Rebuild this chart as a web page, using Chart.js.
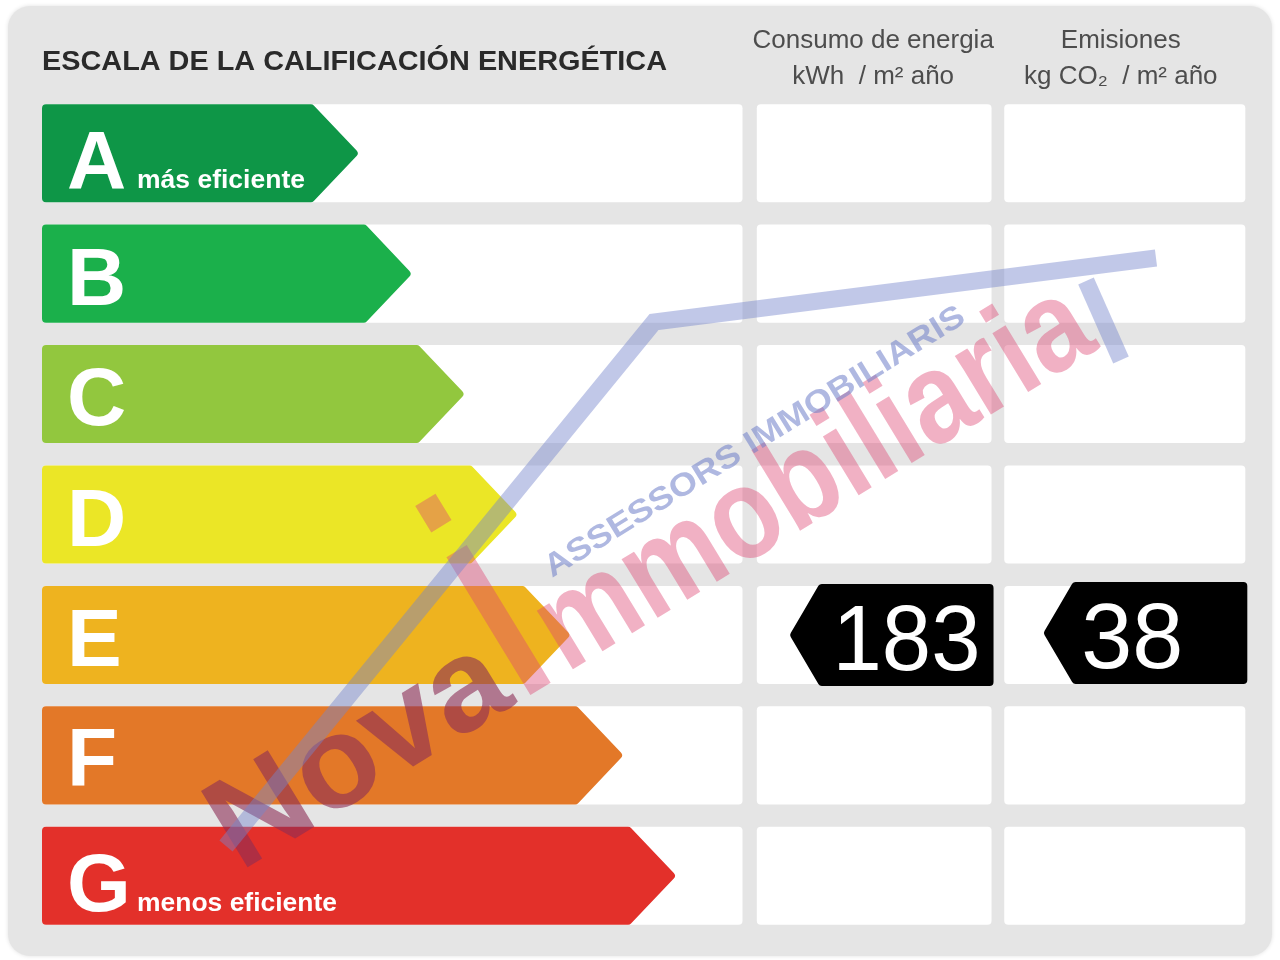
<!DOCTYPE html>
<html><head><meta charset="utf-8">
<script src="https://cdn.jsdelivr.net/npm/chart.js@4.4.1/dist/chart.umd.min.js"></script>
<style>html,body{margin:0;padding:0;background:#fff;}#wrap{width:1280px;height:960px;position:relative;}</style>
</head><body><div id="wrap"><canvas id="c" width="1280" height="960"></canvas></div>
<script>
// ---- data ----
const ratings = ['A','B','C','D','E','F','G'];
const arrowLength = [6,7,8,9,10,11,12];
const arrowColors = ['#0e9647','#1bb04b','#92c73e','#ebe626','#eeb31f','#e37828','#e3302a'];
const ratingNotes = ['más eficiente','','','','','','menos eficiente'];
const valueRating = 'E';
const consumoValue = 183;
const emisionesValue = 38;
const titleText = 'ESCALA DE LA CALIFICACIÓN ENERGÉTICA';
const consumoHeader = ['Consumo de energia', 'kWh  / m² año'];
const emisionesHeader = ['Emisiones', 'kg CO₂  / m² año'];
const watermarkMain = ['Nova', 'i', 'mmobiliaria'];
const watermarkSub = 'ASSESSORS IMMOBILIARIS';

// ---- layout constants (scale units) ----
const X_MAX = 23;
const SCALE_END = 13.25;
const COL_CONSUMO = [13.52, 17.96];
const COL_EMISIONES = [18.2, 22.76];
const FONT = "'Liberation Sans', Arial, Helvetica, sans-serif";

function roundPoly(ctx, pts, r){
  const n = pts.length;
  ctx.beginPath();
  const mid = [(pts[0][0]+pts[n-1][0])/2,(pts[0][1]+pts[n-1][1])/2];
  ctx.moveTo(mid[0], mid[1]);
  for(let i=0;i<n;i++){
    const p = pts[i], q = pts[(i+1)%n];
    ctx.arcTo(p[0],p[1],q[0],q[1],r);
  }
  ctx.closePath();
}
function roundRect(ctx,x,y,w,h,r){
  roundPoly(ctx,[[x,y],[x+w,y],[x+w,y+h],[x,y+h]],r);
}

const labelPlugin = {
  id:'energyLabel',
  beforeDraw(chart){
    const ctx = chart.ctx;
    ctx.save();
    ctx.fillStyle='#ffffff';
    ctx.fillRect(0,0,chart.width,chart.height);
    ctx.shadowColor='rgba(0,0,0,0.12)';
    ctx.shadowBlur=4;
    ctx.fillStyle='#e5e5e5';
    roundRect(ctx,8,6,1264,950,22);
    ctx.fill();
    ctx.shadowColor='transparent';
    // title
    ctx.fillStyle='#2a2a2a';
    ctx.textBaseline='alphabetic';
    ctx.textAlign='left';
    ctx.font='bold 27px '+FONT;
    const tw = ctx.measureText(titleText).width;
    ctx.save();
    ctx.translate(42,70);
    ctx.scale(625/tw,1);
    ctx.fillText(titleText,0,0);
    ctx.restore();
    // headers
    const xs = chart.scales.x;
    ctx.fillStyle='#4d4d4d';
    ctx.font='26px '+FONT;
    ctx.textAlign='center';
    const c1 = (xs.getPixelForValue(COL_CONSUMO[0])+xs.getPixelForValue(COL_CONSUMO[1]))/2 - 1;
    const c2 = (xs.getPixelForValue(COL_EMISIONES[0])+xs.getPixelForValue(COL_EMISIONES[1]))/2 - 4;
    ctx.fillText(consumoHeader[0], c1, 48);
    ctx.fillText(consumoHeader[1], c1, 84);
    ctx.fillText(emisionesHeader[0], c2, 48);
    ctx.fillText(emisionesHeader[1], c2, 84);
    ctx.restore();
  },
  beforeDatasetDraw(chart,args){
    const ds = chart.data.datasets[args.index];
    if(!ds.arrow) return;
    const ctx = chart.ctx;
    ctx.save();
    args.meta.data.forEach((bar,i)=>{
      const p = bar.getProps(['x','y','base','height'],true);
      const top = p.y-p.height/2, bot = p.y+p.height/2;
      const depth = p.height/2*0.95;
      ctx.fillStyle = ds.backgroundColor[i];
      roundPoly(ctx,[[p.base,top],[p.x-depth,top],[p.x,p.y],[p.x-depth,bot],[p.base,bot]],4);
      ctx.fill();
      // letter
      ctx.fillStyle='#ffffff';
      ctx.textAlign='left';
      ctx.textBaseline='alphabetic';
      ctx.font='bold 82px '+FONT;
      const note = ratingNotes[i];
      const bl = note ? p.y+35 : p.y+31;
      ctx.fillText(ratings[i], p.base+25, bl);
      if(note){
        ctx.font='bold 25px '+FONT;
        const w = ctx.measureText(note).width;
        const target = i===0 ? 168 : 200;
        ctx.save();
        ctx.translate(p.base+95, bl);
        ctx.scale(target/w,1);
        ctx.fillText(note,0,0);
        ctx.restore();
      }
    });
    ctx.restore();
    return false;
  },
  afterDatasetsDraw(chart){
    const ctx = chart.ctx;
    const xs = chart.scales.x, ys = chart.scales.y;
    const idx = ratings.indexOf(valueRating);
    const yc = ys.getPixelForValue(idx);
    const band = (ys.bottom-ys.top)/ratings.length;
    const h = band*0.8145+4;
    const items = [[COL_CONSUMO, consumoValue, 0, 13],[COL_EMISIONES, emisionesValue, -2, 8]];
    ctx.save();
    items.forEach(([col,val,dy,pad])=>{
      const right = xs.getPixelForValue(col[1])+2;
      const left = right-204;
      const top = yc-h/2+dy, bot = yc+h/2+dy;
      const body = left+30;
      ctx.fillStyle='#000000';
      roundPoly(ctx,[[body,top],[right,top],[right,bot],[body,bot],[left,(top+bot)/2]],4);
      ctx.fill();
      ctx.fillStyle='#ffffff';
      ctx.font='92px '+FONT;
      ctx.textAlign='left';
      ctx.textBaseline='alphabetic';
      const txt = String(val);
      const w = ctx.measureText(txt).width;
      const target = txt.length===3 ? 148 : 102;
      ctx.save();
      ctx.translate(body+pad, (top+bot)/2+35);
      ctx.scale(target/w,1);
      ctx.fillText(txt,0,0);
      ctx.restore();
    });
    ctx.restore();
  },
  afterDraw(chart){
    const ctx = chart.ctx;
    ctx.save();
    // main text along a rising baseline
    ctx.save();
    const ang = Math.atan2(345-872, 1105-240);
    ctx.translate(240,872);
    ctx.rotate(ang);
    ctx.font='bold 130px '+FONT;
    ctx.textAlign='left'; ctx.textBaseline='alphabetic';
    // "Nova"
    const wN = ctx.measureText(watermarkMain[0]).width;
    ctx.save();
    ctx.scale(325/wN,1);
    ctx.fillStyle='rgba(140,45,85,0.6)';
    ctx.fillText(watermarkMain[0],0,0);
    ctx.restore();
    // tall "i"
    const wI = ctx.measureText(watermarkMain[1]).width;
    ctx.save();
    ctx.translate(328,0);
    ctx.scale(48/wI,2.35);
    ctx.fillStyle='rgba(222,70,115,0.42)';
    ctx.fillText(watermarkMain[1],0,0);
    ctx.restore();
    // "mmobiliaria"
    const wM = ctx.measureText(watermarkMain[2]).width;
    ctx.save();
    ctx.translate(382,0);
    ctx.scale(626/wM,1);
    ctx.fillStyle='rgba(222,70,115,0.42)';
    ctx.fillText(watermarkMain[2],0,0);
    ctx.restore();
    ctx.restore();
    // house outline
    ctx.strokeStyle='rgba(118,134,204,0.45)';
    ctx.lineWidth=17;
    ctx.lineJoin='miter';
    ctx.beginPath();
    ctx.moveTo(226,846); ctx.lineTo(654,322); ctx.lineTo(1156,258);
    ctx.stroke();
    ctx.beginPath();
    ctx.moveTo(1086,281); ctx.lineTo(1121,360);
    ctx.stroke();
    // sub text
    ctx.save();
    const ang2 = Math.atan2(320-578, 968-550);
    ctx.translate(552,578);
    ctx.rotate(ang2);
    ctx.font='bold 32px '+FONT;
    const w3 = ctx.measureText(watermarkSub).width;
    ctx.scale(488/w3,1);
    ctx.fillStyle='rgba(110,125,200,0.55)';
    ctx.fillText(watermarkSub,0,0);
    ctx.restore();
    ctx.restore();
  }
};

const common = {grouped:false, barPercentage:0.9, categoryPercentage:0.905, borderSkipped:false};
new Chart(document.getElementById('c'),{
  type:'bar',
  data:{
    labels: ratings,
    datasets:[
      Object.assign({label:'fondo', data: ratings.map(()=>[0,SCALE_END]), backgroundColor:'#ffffff', borderRadius:4, order:4}, common),
      Object.assign({label:'consumo', data: ratings.map(()=>COL_CONSUMO.slice()), backgroundColor:'#ffffff', borderRadius:4, order:3}, common),
      Object.assign({label:'emisiones', data: ratings.map(()=>COL_EMISIONES.slice()), backgroundColor:'#ffffff', borderRadius:4, order:2}, common),
      Object.assign({label:'calificación', data: arrowLength, backgroundColor: arrowColors, arrow:true, order:1}, common)
    ]
  },
  options:{
    indexAxis:'y',
    responsive:false,
    animation:false,
    layout:{padding:{left:42,right:22,top:93,bottom:24}},
    scales:{
      x:{display:false,min:0,max:X_MAX},
      y:{display:false}
    },
    plugins:{legend:{display:false},tooltip:{enabled:false},title:{display:false}}
  },
  plugins:[labelPlugin]
});
</script>
</body></html>
